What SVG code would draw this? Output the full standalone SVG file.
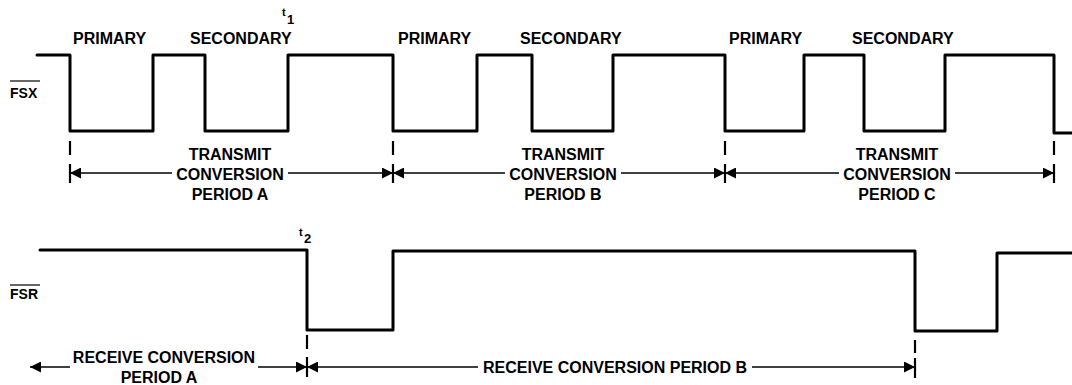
<svg xmlns="http://www.w3.org/2000/svg" width="1072" height="385" viewBox="0 0 1072 385">
<style>
.wave{fill:none;stroke:#000;stroke-width:3;stroke-linejoin:round;stroke-linecap:round}
.dim{fill:none;stroke:#000;stroke-width:1.6}
.ext{fill:none;stroke:#000;stroke-width:2.2}
.lbl{font-family:"Liberation Sans",Arial,sans-serif;font-weight:bold;font-size:16px;fill:#000}
.sig{font-family:"Liberation Sans",Arial,sans-serif;font-weight:bold;font-size:14px;fill:#000}
.tm{font-family:"Liberation Sans",Arial,sans-serif;font-weight:bold;font-size:11px;fill:#000}
.ts{font-family:"Liberation Sans",Arial,sans-serif;font-weight:bold;font-size:13px;fill:#000}
</style>
<defs>
<marker id="ah" viewBox="0 0 10 10" refX="10" refY="5" markerWidth="12" markerHeight="11" markerUnits="userSpaceOnUse" orient="auto-start-reverse">
<path d="M0,0 L10,5 L0,10 z" fill="#000"/>
</marker>
</defs>
<rect width="1072" height="385" fill="#fff"/>

<g id="fsx">
<path class="wave" d="M37,55 H70 V131 H153 V55 H205 V131 H288 V55 H393 V131 H477 V55 H532 V131 H613 V55 H725 V131 H804 V55 H864 V131 H945 V55 H1054 V133 H1072"/>
<text class="sig" x="10" y="98">FSX</text>
<line x1="10" y1="81" x2="40" y2="81" stroke="#000" stroke-width="1.2"/>
<text class="lbl" x="73" y="44">PRIMARY</text>
<text class="lbl" x="190" y="44">SECONDARY</text>
<text class="lbl" x="398" y="44">PRIMARY</text>
<text class="lbl" x="520" y="44">SECONDARY</text>
<text class="lbl" x="729" y="44">PRIMARY</text>
<text class="lbl" x="852" y="44">SECONDARY</text>
<text class="tm" x="282" y="16">t</text>
<text class="ts" x="287" y="24">1</text>
</g>

<g id="fsr">
<path class="wave" d="M40,250 H307 V330 H393 V251 H915 V331 H997 V253 H1072"/>
<text class="sig" x="10" y="299">FSR</text>
<line x1="10" y1="285" x2="40" y2="285" stroke="#000" stroke-width="1.2"/>
<text class="tm" x="299" y="236">t</text>
<text class="ts" x="304" y="243">2</text>
</g>

<g id="period-a">
<text class="lbl" x="230" y="160" text-anchor="middle">TRANSMIT</text>
<text class="lbl" x="230" y="180" text-anchor="middle">CONVERSION</text>
<text class="lbl" x="230" y="200" text-anchor="middle">PERIOD A</text>
</g>
<g id="period-b">
<text class="lbl" x="563" y="160" text-anchor="middle">TRANSMIT</text>
<text class="lbl" x="563" y="180" text-anchor="middle">CONVERSION</text>
<text class="lbl" x="563" y="200" text-anchor="middle">PERIOD B</text>
</g>
<g id="period-c">
<text class="lbl" x="897" y="160" text-anchor="middle">TRANSMIT</text>
<text class="lbl" x="897" y="180" text-anchor="middle">CONVERSION</text>
<text class="lbl" x="897" y="200" text-anchor="middle">PERIOD C</text>
</g>
<g id="recv-a">
<text class="lbl" x="164" y="363" text-anchor="middle">RECEIVE CONVERSION</text>
<text class="lbl" x="159" y="383" text-anchor="middle">PERIOD A</text>
</g>
<g id="recv-b">
<text class="lbl" x="483" y="373">RECEIVE CONVERSION PERIOD B</text>
</g>

<g id="connectors">
<path class="ext" d="M70,141 V155 M70,164 V183 M393,141 V155 M393,164 V183 M725,141 V155 M725,164 V183 M1054,141 V155 M1054,164 V183"/>
<path class="ext" d="M307,335 V349 M307,357 V377 M915,340 V353 M915,358 V378"/>
<line class="dim" x1="70" y1="173" x2="172" y2="173" marker-start="url(#ah)"/>
<line class="dim" x1="288" y1="173" x2="393" y2="173" marker-end="url(#ah)"/>
<line class="dim" x1="393" y1="173" x2="505" y2="173" marker-start="url(#ah)"/>
<line class="dim" x1="621" y1="173" x2="725" y2="173" marker-end="url(#ah)"/>
<line class="dim" x1="725" y1="173" x2="839" y2="173" marker-start="url(#ah)"/>
<line class="dim" x1="955" y1="173" x2="1054" y2="173" marker-end="url(#ah)"/>
<line class="dim" x1="30" y1="367" x2="70" y2="367" marker-start="url(#ah)"/>
<line class="dim" x1="258" y1="367" x2="307" y2="367" marker-end="url(#ah)"/>
<line class="dim" x1="307" y1="367" x2="478" y2="367" marker-start="url(#ah)"/>
<line class="dim" x1="752" y1="367" x2="915" y2="367" marker-end="url(#ah)"/>
</g>
</svg>
